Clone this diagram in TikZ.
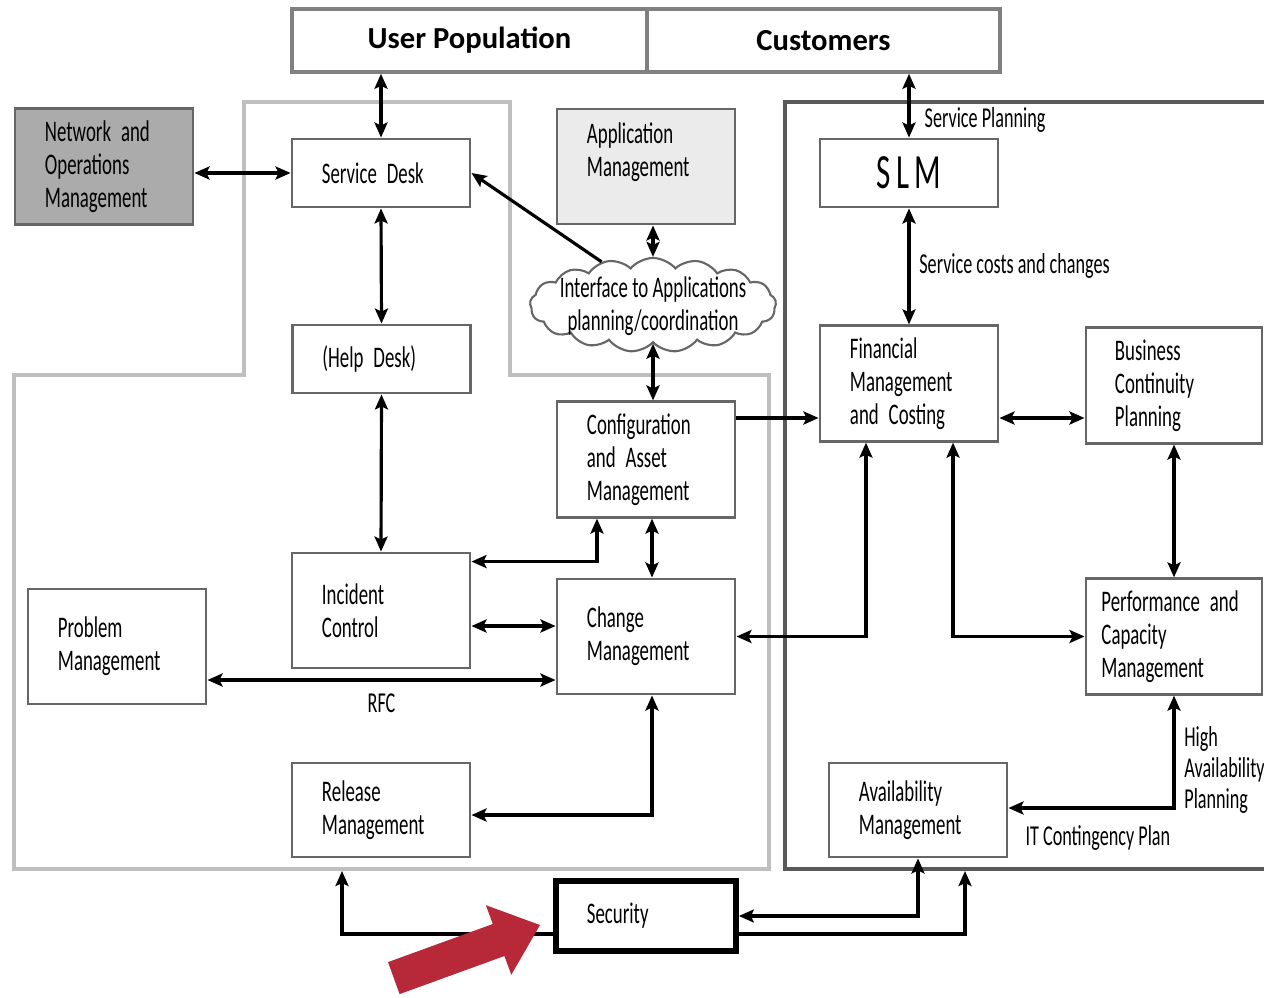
\documentclass[tikz,border=0pt]{standalone}
\usepackage{fontspec}
\setmainfont{Carlito}[FakeStretch=0.63]
\newfontfamily\headfont{Carlito}
\usetikzlibrary{arrows.meta,shapes.symbols}
\definecolor{secred}{RGB}{183,41,56}
\begin{document}
\begin{tikzpicture}[x=0.01cm,y=-0.01cm,
  >={Stealth[length=1.5mm,width=1.3mm,inset=0.3mm]},
  box/.style={draw=black!60,line width=0.8pt,fill=white,text width=1.18cm,
    minimum width=1.78cm,inner xsep=0pt,align=left,font=\fontsize{8.5}{9.4}\selectfont},
  tall/.style={box,minimum height=1.15cm},
  mid/.style={box,minimum height=0.94cm},
  short/.style={box,minimum height=0.68cm},
  hdr/.style={draw=black!50,line width=1pt,minimum height=0.63cm,
    font=\headfont\bfseries\fontsize{8.7}{10}\selectfont},
  lbl/.style={font=\fontsize{8.2}{8.9}\selectfont,inner sep=1.5pt,align=left},
  link/.style={line width=0.9pt,->},
  dbl/.style={line width=0.9pt,<->}]
\useasboundingbox (0,0) rectangle (1264,997);
% process areas
\draw[black!25,line width=1pt] (244,102) -- (510,102) -- (510,375) -- (769,375) -- (769,869)
  -- (14,869) -- (14,375) -- (244,375) -- cycle;
\draw[black!65,line width=1pt] (1264,102) -- (785,102) -- (785,869) -- (1264,869);
\coordinate (lbot) at (342,871);
\coordinate (rbot) at (965,871);

\node[hdr,minimum width=3.55cm] (usr) at (469.5,40.5) {User Population};
\node[hdr,minimum width=3.53cm] (cust) at (823.5,40.5) {Customers};

\node[tall,fill=black!33] (nom) at (104,166.5) {Network and Operations Management};
\node[short] (sd) at (381,173) {Service Desk};
\node[short] (hd) at (381.5,359) {(Help Desk)};
\node[tall,fill=black!8] (app) at (646,166.5) {Application\\Management\\\mbox{}};
\node[cloud,cloud puffs=17,cloud puff arc=100,draw=black!60,line width=0.6pt,fill=white,
  minimum width=2.46cm,minimum height=0.94cm] (cld) at (653,305) {};
\node[font=\fontsize{8.5}{9.4}\selectfont,align=center,inner sep=0pt] (cldtxt) at ([yshift=-0.01cm]cld.center)
  {Interface to Applications\\planning/coordination};
\node[tall] (cfg) at (646,459.5) {Configuration and Asset Management};
\node[tall] (inc) at (381,610.5) {Incident\\Control};
\node[tall] (chg) at (646,636.5) {Change\\Management};
\node[tall] (prb) at (117,646.5) {Problem\\Management};
\node[mid] (rel) at (381,810) {Release\\Management};
\node[box,draw=black,line width=1.6pt,minimum width=1.8cm,minimum height=0.7cm] (sec) at (646,916) {Security};

\node[short,align=center,font=\fontsize{14}{14}\selectfont] (slm) at (909,173) {S\kern1.5pt L\kern1.5pt M};
\node[tall] (fin) at (909,383.5) {Financial Management and Costing};
\node[tall,minimum width=1.76cm] (bcp) at (1174,385.5) {Business\\Continuity\\Planning};
\node[tall,minimum width=1.76cm,text width=1.45cm] (pcm) at (1174,636.5) {Performance and\\Capacity\\Management};
\node[mid] (avl) at (918,810) {Availability\\Management};

\draw[dbl] (sd.north |- usr.south) -- (sd.north);
\draw[dbl] (slm.north |- cust.south) -- node[lbl,pos=0.72,right=2.5pt] {Service Planning} (slm.north);
\draw[dbl] (nom.east |- sd.west) -- (sd.west);
\draw[dbl] (sd.south) -- (hd.north);
\draw[dbl] (hd.south) -- (inc.north);
\draw[link] (cld.140) -- (sd.east);
\draw[dbl] (cld.north |- app.south) -- (cld.north);
\draw[dbl] (cld.south) -- (cld.south |- cfg.north);
\draw[link] ([yshift=0.415cm]cfg.east) -- ([yshift=0.415cm]cfg.east -| fin.west);
\draw[dbl] ([yshift=-0.1cm]inc.north east) -| ([xshift=-0.49cm]cfg.south);
\draw[dbl] ([xshift=0.06cm]cfg.south) -- ([xshift=0.06cm]chg.north);
\draw[dbl] ([yshift=-0.155cm]inc.east) -- ([yshift=-0.155cm]inc.east -| chg.west);
\draw[dbl] ([yshift=-0.335cm]prb.east) -- node[lbl,below=2pt] {RFC} ([yshift=-0.335cm]prb.east -| chg.west);
\draw[dbl] (chg.east) -| ([xshift=-0.43cm]fin.south);
\draw[dbl] ([xshift=0.44cm]fin.south) |- (pcm.west);
\draw[dbl] (slm.south) -- node[lbl,right=1pt] {Service costs and changes} (fin.north);
\draw[dbl] ([yshift=-0.345cm]fin.east) -- ([yshift=-0.345cm]fin.east -| bcp.west);
\draw[dbl] (bcp.south) -- (pcm.north);
\draw[dbl] (pcm.south) |- node[lbl,pos=0.33,right=1pt] {High\\Availability\\Planning}
  node[lbl,pos=0.73,below=3pt] {IT Contingency Plan} ([yshift=0.02cm]avl.east);
\draw[dbl] ([xshift=0.06cm]chg.south) |- ([yshift=-0.05cm]rel.east);
\draw[link] ([yshift=-0.18cm]sec.west) -| (lbot);
\draw[dbl] (sec.east) -| (avl.south);
\draw[link] ([yshift=-0.18cm]sec.east) -| (rbot);

\fill[secred] (540,925) -- (511.3,974.8) -- (504.4,956) -- (399.6,994.1) -- (388,962.1)
  -- (492.8,924) -- (485.9,905.2) -- cycle;
\end{tikzpicture}
\end{document}
